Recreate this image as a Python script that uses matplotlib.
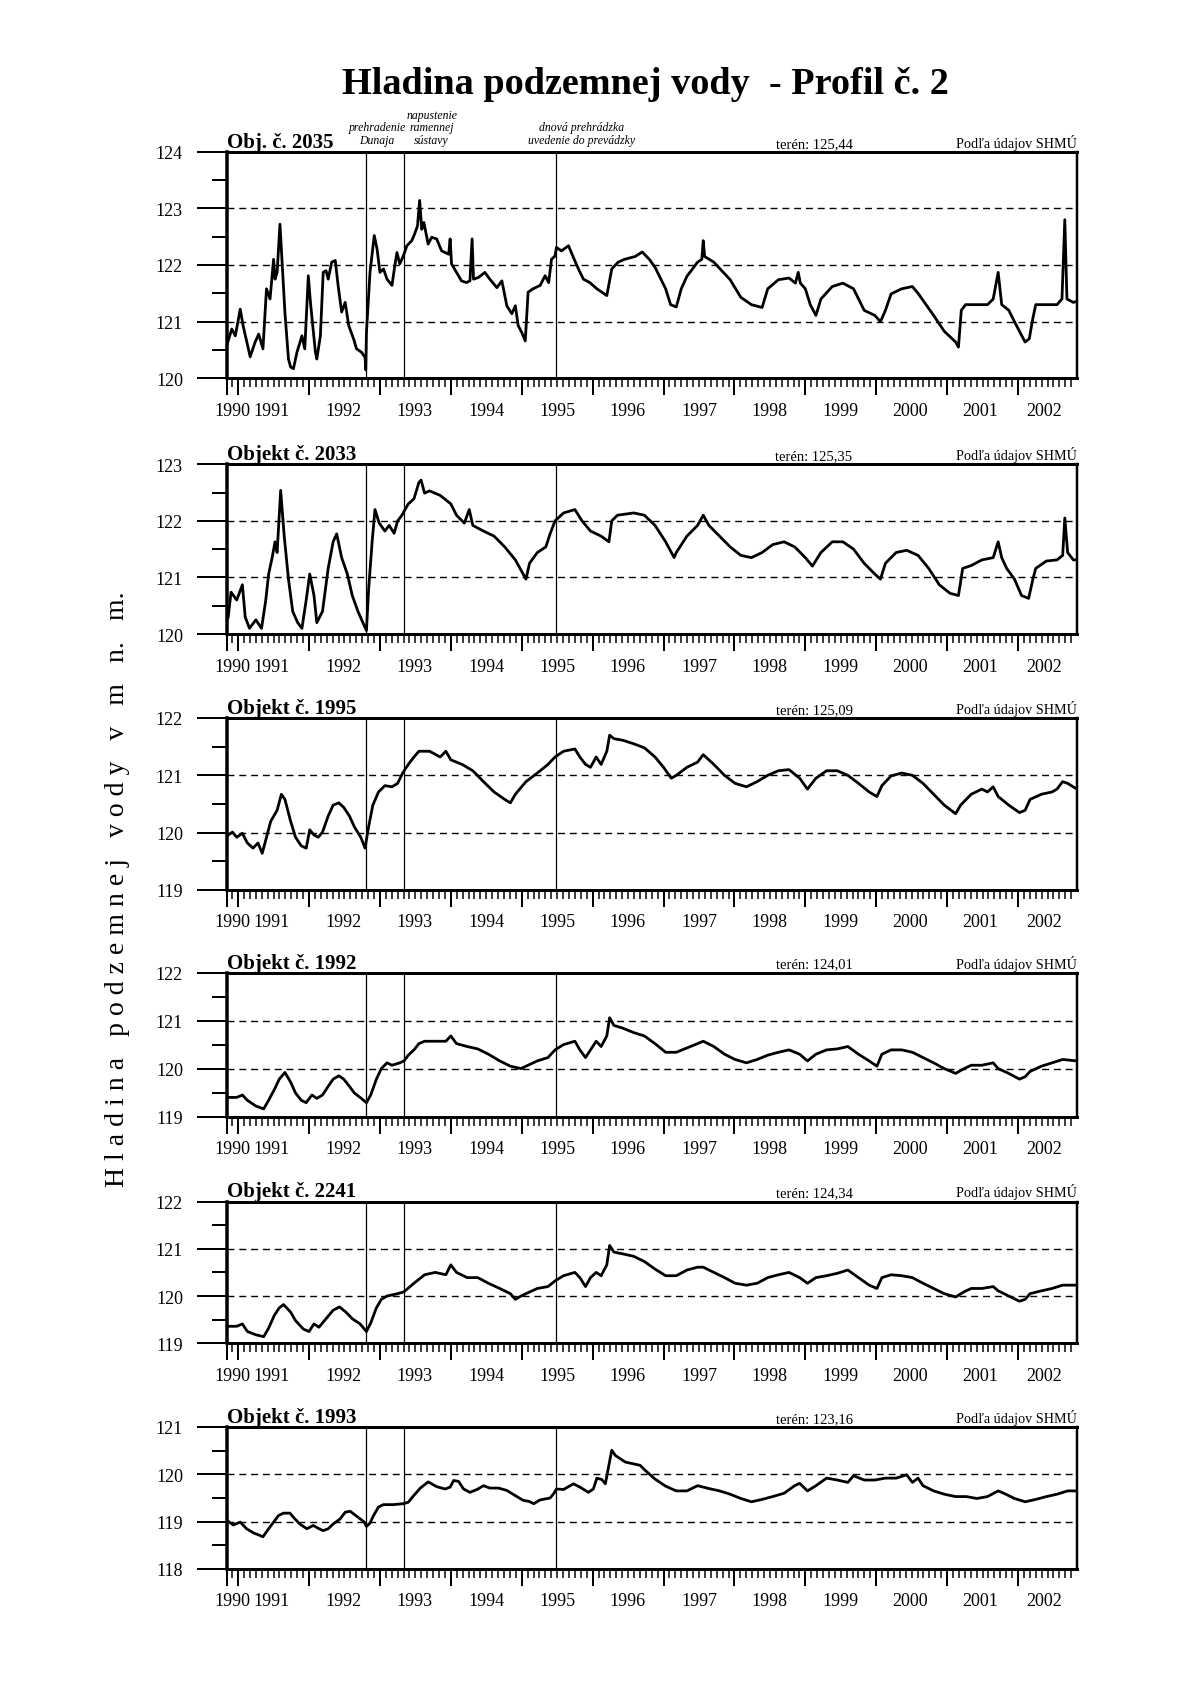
import matplotlib
matplotlib.use('Agg')
import matplotlib.pyplot as plt
from matplotlib.transforms import blended_transform_factory, offset_copy
import numpy as np

plt.rcParams['font.family'] = ['Liberation Serif', 'DejaVu Serif']

# ---------------- data ----------------
title = "Hladina podzemnej vody  - Profil č. 2"
ylabel = "H l a d i n a   p o d z e m n e j   v o d y   v   m   n.   m."
source = "Podľa údajov SHMÚ"

panel_names = ["Obj. č. 2035", "Objekt č. 2033", "Objekt č. 1995",
               "Objekt č. 1992", "Objekt č. 2241", "Objekt č. 1993"]
teren_labels = ["terén: 125,44", "terén: 125,35", "terén: 125,09",
                "terén: 124,01", "terén: 124,34", "terén: 123,16"]
y_limits = [(120, 124), (120, 123), (119, 122), (119, 122), (119, 122), (118, 121)]

event_years = [1992.81, 1993.34, 1995.48]
event_labels = ["prehradenie\nDunaja", "napustenie\nramennej\nsústavy",
                "dnová prehrádzka\nuvedenie do prevádzky"]
event_label_x = [1992.96, 1993.73, 1995.85]

year_labels = ["1990", "1991", "1992", "1993", "1994", "1995", "1996",
               "1997", "1998", "1999", "2000", "2001", "2002"]
year_label_x = [1990.92, 1991.47, 1992.49, 1993.49, 1994.50, 1995.50, 1996.49,
                1997.50, 1998.50, 1999.49, 2000.48, 2001.47, 2002.37]

obj_2035 = [(1990.84,120.58),(1990.91,120.87),(1990.96,120.75),(1991.03,121.22),(1991.07,120.93),
 (1991.17,120.38),(1991.24,120.64),(1991.29,120.78),(1991.35,120.52),(1991.38,121.16),(1991.40,121.58),
 (1991.45,121.40),(1991.50,122.10),(1991.52,121.75),(1991.55,121.87),(1991.59,122.72),(1991.62,122.05),
 (1991.66,121.16),(1991.71,120.34),(1991.74,120.20),(1991.78,120.17),(1991.83,120.46),(1991.90,120.75),
 (1991.94,120.52),(1991.99,121.81),(1992.02,121.34),(1992.09,120.46),(1992.11,120.34),(1992.16,120.75),
 (1992.20,121.87),(1992.24,121.90),(1992.27,121.75),(1992.32,122.05),(1992.37,122.08),(1992.41,121.64),
 (1992.46,121.17),(1992.51,121.34),(1992.56,120.93),(1992.63,120.69),(1992.67,120.52),(1992.74,120.46),
 (1992.79,120.37),(1992.80,120.15),(1992.81,120.81),(1992.86,121.87),(1992.92,122.52),(1992.96,122.28),
 (1993.00,121.87),(1993.05,121.93),(1993.10,121.75),(1993.17,121.64),(1993.21,121.99),(1993.24,122.22),
 (1993.28,122.02),(1993.33,122.16),(1993.38,122.34),(1993.45,122.43),(1993.49,122.55),(1993.53,122.69),
 (1993.56,123.14),(1993.59,122.63),(1993.62,122.75),(1993.68,122.37),(1993.73,122.49),(1993.80,122.46),
 (1993.87,122.25),(1993.97,122.19),(1993.99,122.46),(1994.01,122.02),(1994.08,121.87),(1994.15,121.72),
 (1994.22,121.69),(1994.27,121.72),(1994.30,122.46),(1994.32,121.75),(1994.39,121.78),(1994.48,121.87),
 (1994.55,121.75),(1994.65,121.60),(1994.72,121.72),(1994.79,121.28),(1994.86,121.14),(1994.91,121.28),
 (1994.95,120.93),(1995.00,120.81),(1995.05,120.66),(1995.09,121.52),(1995.16,121.58),(1995.26,121.64),
 (1995.33,121.81),(1995.38,121.69),(1995.42,122.10),(1995.47,122.16),(1995.49,122.31),(1995.56,122.25),
 (1995.66,122.34),(1995.73,122.13),(1995.80,121.93),(1995.87,121.75),(1995.96,121.69),(1996.06,121.58),
 (1996.20,121.46),(1996.27,121.93),(1996.36,122.05),(1996.45,122.10),(1996.60,122.15),(1996.70,122.23),
 (1996.80,122.10),(1996.88,121.96),(1997.03,121.58),(1997.10,121.30),(1997.18,121.26),(1997.25,121.58),
 (1997.33,121.80),(1997.48,122.05),(1997.54,122.10),(1997.56,122.43),(1997.58,122.15),(1997.71,122.05),
 (1997.94,121.74),(1998.09,121.43),(1998.24,121.30),(1998.39,121.25),(1998.47,121.58),(1998.62,121.74),
 (1998.77,121.77),(1998.86,121.68),(1998.90,121.87),(1998.93,121.68),(1999.00,121.58),(1999.07,121.30),
 (1999.15,121.11),(1999.22,121.40),(1999.38,121.62),(1999.53,121.68),(1999.68,121.58),(1999.83,121.20),
 (1999.98,121.11),(2000.06,121.00),(2000.13,121.20),(2000.21,121.49),(2000.36,121.58),(2000.51,121.62),
 (2000.59,121.50),(2000.81,121.11),(2000.96,120.83),(2001.12,120.64),(2001.16,120.55),(2001.20,121.20),
 (2001.26,121.30),(2001.42,121.30),(2001.57,121.30),(2001.65,121.40),(2001.72,121.87),(2001.77,121.30),
 (2001.87,121.20),(2001.95,121.00),(2002.02,120.83),(2002.10,120.64),(2002.16,120.70),(2002.20,121.00),
 (2002.25,121.30),(2002.40,121.30),(2002.55,121.30),(2002.62,121.40),(2002.66,122.80),(2002.69,121.40),
 (2002.78,121.34),(2002.83,121.36)]

obj_2033 = [(1990.86,120.30),(1990.90,120.74),(1990.98,120.60),(1991.06,120.87),(1991.10,120.30),
 (1991.16,120.10),(1991.25,120.25),(1991.33,120.10),(1991.39,120.60),(1991.43,121.06),(1991.48,121.35),
 (1991.52,121.63),(1991.55,121.44),(1991.60,122.54),(1991.65,121.73),(1991.71,120.97),(1991.77,120.40),
 (1991.84,120.20),(1991.90,120.10),(1991.96,120.60),(1992.01,121.06),(1992.07,120.68),(1992.11,120.20),
 (1992.19,120.40),(1992.27,121.16),(1992.34,121.63),(1992.39,121.77),(1992.46,121.35),(1992.54,121.06),
 (1992.61,120.68),(1992.69,120.40),(1992.76,120.20),(1992.81,120.06),(1992.84,120.78),(1992.89,121.63),
 (1992.93,122.20),(1992.99,121.96),(1993.07,121.82),(1993.13,121.92),(1993.20,121.78),(1993.25,122.00),
 (1993.31,122.10),(1993.40,122.30),(1993.48,122.39),(1993.55,122.68),(1993.58,122.72),(1993.63,122.49),
 (1993.70,122.53),(1993.85,122.45),(1994.00,122.30),(1994.08,122.10),(1994.19,121.96),(1994.26,122.20),
 (1994.31,121.92),(1994.46,121.82),(1994.61,121.73),(1994.76,121.54),(1994.91,121.31),(1995.02,121.06),
 (1995.06,120.97),(1995.11,121.25),(1995.22,121.44),(1995.34,121.54),(1995.40,121.77),(1995.47,122.00),
 (1995.59,122.14),(1995.75,122.20),(1995.85,122.00),(1995.97,121.82),(1996.12,121.73),(1996.23,121.63),
 (1996.27,122.00),(1996.35,122.10),(1996.58,122.14),(1996.73,122.10),(1996.88,121.92),(1997.03,121.63),
 (1997.15,121.35),(1997.18,121.44),(1997.33,121.73),(1997.48,121.92),(1997.56,122.10),(1997.64,121.92),
 (1997.79,121.73),(1997.94,121.54),(1998.09,121.39),(1998.24,121.35),(1998.39,121.44),(1998.54,121.58),
 (1998.70,121.63),(1998.85,121.54),(1999.00,121.35),(1999.10,121.20),(1999.22,121.44),(1999.38,121.63),
 (1999.53,121.63),(1999.68,121.50),(1999.83,121.25),(1999.98,121.06),(2000.06,120.97),(2000.13,121.25),
 (2000.28,121.44),(2000.43,121.48),(2000.59,121.39),(2000.74,121.16),(2000.89,120.87),(2001.04,120.72),
 (2001.16,120.68),(2001.22,121.16),(2001.34,121.21),(2001.49,121.31),(2001.65,121.35),(2001.72,121.63),
 (2001.77,121.35),(2001.84,121.16),(2001.95,120.97),(2002.05,120.68),(2002.15,120.63),(2002.21,120.97),
 (2002.25,121.16),(2002.40,121.29),(2002.55,121.31),(2002.63,121.39),(2002.66,122.05),(2002.70,121.44),
 (2002.78,121.31),(2002.83,121.31)]

obj_1995 = [(1990.86,119.96),(1990.92,120.01),(1990.98,119.92),(1991.06,119.99),(1991.13,119.82),
 (1991.21,119.73),(1991.28,119.82),(1991.34,119.64),(1991.40,119.92),(1991.46,120.20),(1991.55,120.39),
 (1991.61,120.67),(1991.66,120.58),(1991.74,120.20),(1991.81,119.92),(1991.89,119.77),(1991.96,119.73),
 (1992.01,120.05),(1992.07,119.96),(1992.13,119.92),(1992.19,120.01),(1992.27,120.29),(1992.34,120.48),
 (1992.42,120.52),(1992.49,120.44),(1992.57,120.29),(1992.64,120.10),(1992.73,119.92),(1992.79,119.73),
 (1992.84,120.10),(1992.90,120.48),(1992.98,120.71),(1993.07,120.82),(1993.17,120.80),(1993.25,120.86),
 (1993.32,121.04),(1993.40,121.19),(1993.48,121.32),(1993.55,121.42),(1993.70,121.42),(1993.85,121.32),
 (1993.93,121.42),(1994.00,121.27),(1994.16,121.19),(1994.31,121.08),(1994.46,120.89),(1994.61,120.71),
 (1994.76,120.58),(1994.84,120.52),(1994.91,120.67),(1995.06,120.89),(1995.22,121.04),(1995.37,121.19),
 (1995.47,121.32),(1995.59,121.42),(1995.75,121.46),(1995.82,121.32),(1995.90,121.19),(1995.97,121.14),
 (1996.05,121.32),(1996.12,121.19),(1996.20,121.42),(1996.24,121.70),(1996.30,121.64),(1996.43,121.61),
 (1996.58,121.55),(1996.73,121.48),(1996.88,121.32),(1997.00,121.14),(1997.11,120.95),(1997.18,121.00),
 (1997.33,121.14),(1997.48,121.23),(1997.56,121.36),(1997.71,121.19),(1997.86,121.00),(1998.01,120.86),
 (1998.17,120.80),(1998.32,120.89),(1998.47,121.00),(1998.62,121.08),(1998.77,121.10),(1998.92,120.95),
 (1999.03,120.76),(1999.15,120.95),(1999.30,121.08),(1999.45,121.08),(1999.60,121.00),(1999.75,120.86),
 (1999.90,120.71),(2000.01,120.63),(2000.08,120.82),(2000.21,120.99),(2000.36,121.04),(2000.51,121.00),
 (2000.66,120.86),(2000.81,120.67),(2000.96,120.48),(2001.12,120.33),(2001.19,120.48),(2001.34,120.67),
 (2001.49,120.76),(2001.57,120.71),(2001.65,120.80),(2001.72,120.63),(2001.87,120.48),(2002.02,120.35),
 (2002.10,120.39),(2002.17,120.58),(2002.33,120.67),(2002.48,120.71),(2002.55,120.76),(2002.63,120.89),
 (2002.70,120.86),(2002.83,120.76)]

obj_1992 = [(1990.86,119.40),(1990.98,119.40),(1991.06,119.45),(1991.13,119.34),(1991.25,119.22),
 (1991.36,119.16),(1991.43,119.34),(1991.51,119.56),(1991.58,119.78),(1991.66,119.92),(1991.74,119.72),
 (1991.81,119.49),(1991.89,119.34),(1991.96,119.29),(1992.04,119.45),(1992.11,119.38),(1992.19,119.45),
 (1992.27,119.63),(1992.34,119.78),(1992.42,119.85),(1992.49,119.78),(1992.57,119.63),(1992.64,119.49),
 (1992.72,119.40),(1992.81,119.29),(1992.87,119.45),(1992.95,119.78),(1993.02,120.00),(1993.10,120.12),
 (1993.17,120.07),(1993.28,120.12),(1993.34,120.16),(1993.40,120.28),(1993.48,120.39),(1993.55,120.52),
 (1993.63,120.57),(1993.78,120.57),(1993.93,120.57),(1994.00,120.68),(1994.08,120.52),(1994.23,120.46),
 (1994.38,120.41),(1994.53,120.30),(1994.69,120.16),(1994.84,120.05),(1994.99,120.00),(1995.06,120.05),
 (1995.22,120.16),(1995.37,120.23),(1995.47,120.39),(1995.59,120.50),(1995.75,120.57),(1995.82,120.39),
 (1995.90,120.23),(1995.97,120.39),(1996.05,120.57),(1996.12,120.46),(1996.20,120.68),(1996.24,121.06),
 (1996.30,120.90),(1996.43,120.84),(1996.58,120.75),(1996.73,120.68),(1996.88,120.52),(1997.03,120.34),
 (1997.18,120.34),(1997.33,120.43),(1997.48,120.52),(1997.56,120.57),(1997.71,120.46),(1997.86,120.30),
 (1998.01,120.19),(1998.17,120.12),(1998.32,120.19),(1998.47,120.28),(1998.62,120.34),(1998.77,120.39),
 (1998.92,120.30),(1999.03,120.16),(1999.15,120.30),(1999.30,120.39),(1999.45,120.41),(1999.60,120.46),
 (1999.75,120.30),(1999.90,120.16),(2000.01,120.05),(2000.08,120.30),(2000.21,120.39),(2000.36,120.39),
 (2000.51,120.34),(2000.66,120.23),(2000.81,120.12),(2000.96,120.00),(2001.12,119.90),(2001.24,120.00),
 (2001.34,120.07),(2001.49,120.07),(2001.65,120.12),(2001.72,120.00),(2001.87,119.90),(2002.02,119.78),
 (2002.10,119.83),(2002.17,119.94),(2002.33,120.05),(2002.48,120.12),(2002.63,120.19),(2002.83,120.16)]

obj_2241 = [(1990.86,119.36),(1990.98,119.36),(1991.06,119.41),(1991.13,119.25),(1991.25,119.18),
 (1991.36,119.14),(1991.43,119.32),(1991.51,119.59),(1991.58,119.75),(1991.64,119.82),(1991.74,119.66),
 (1991.81,119.48),(1991.92,119.30),(1992.00,119.25),(1992.07,119.41),(1992.14,119.34),(1992.24,119.52),
 (1992.34,119.70),(1992.43,119.77),(1992.52,119.66),(1992.61,119.52),(1992.72,119.41),(1992.81,119.25),
 (1992.87,119.43),(1992.95,119.75),(1993.02,119.93),(1993.10,120.00),(1993.25,120.05),(1993.34,120.09),
 (1993.48,120.27),(1993.63,120.45),(1993.78,120.50),(1993.93,120.45),(1994.00,120.66),(1994.08,120.50),
 (1994.23,120.39),(1994.38,120.39),(1994.53,120.27),(1994.69,120.16),(1994.84,120.05),(1994.91,119.93),
 (1994.99,120.00),(1995.06,120.05),(1995.22,120.16),(1995.37,120.20),(1995.47,120.32),(1995.59,120.43),
 (1995.75,120.50),(1995.82,120.39),(1995.90,120.20),(1995.97,120.39),(1996.05,120.50),(1996.12,120.43),
 (1996.20,120.66),(1996.24,121.07),(1996.30,120.93),(1996.43,120.89),(1996.58,120.84),(1996.73,120.73),
 (1996.88,120.57),(1997.03,120.43),(1997.18,120.43),(1997.33,120.55),(1997.48,120.61),(1997.56,120.61),
 (1997.71,120.50),(1997.86,120.39),(1998.01,120.27),(1998.17,120.23),(1998.32,120.27),(1998.47,120.39),
 (1998.62,120.45),(1998.77,120.50),(1998.92,120.39),(1999.03,120.27),(1999.15,120.39),(1999.30,120.43),
 (1999.45,120.48),(1999.60,120.55),(1999.75,120.39),(1999.90,120.23),(2000.01,120.16),(2000.08,120.39),
 (2000.21,120.45),(2000.36,120.43),(2000.51,120.39),(2000.66,120.27),(2000.81,120.16),(2000.96,120.05),
 (2001.12,119.98),(2001.24,120.09),(2001.34,120.16),(2001.49,120.16),(2001.65,120.20),(2001.72,120.11),
 (2001.87,120.00),(2002.02,119.89),(2002.10,119.93),(2002.17,120.05),(2002.33,120.11),(2002.48,120.16),
 (2002.63,120.23),(2002.83,120.23)]

obj_1993 = [(1990.85,119.02),(1990.93,118.93),(1991.03,118.99),(1991.12,118.85),(1991.22,118.76),
 (1991.29,118.72),(1991.35,118.68),(1991.43,118.85),(1991.50,118.99),(1991.57,119.13),(1991.64,119.18),
 (1991.73,119.18),(1991.80,119.06),(1991.87,118.95),(1991.97,118.85),(1992.06,118.92),(1992.13,118.86),
 (1992.20,118.81),(1992.27,118.85),(1992.34,118.95),(1992.44,119.06),(1992.51,119.20),(1992.58,119.22),
 (1992.65,119.14),(1992.72,119.06),(1992.78,118.99),(1992.81,118.90),(1992.86,118.97),(1992.91,119.13),
 (1992.98,119.31),(1993.05,119.36),(1993.19,119.36),(1993.33,119.38),(1993.40,119.41),(1993.47,119.54),
 (1993.57,119.71),(1993.68,119.84),(1993.80,119.74),(1993.92,119.69),(1993.99,119.73),(1994.04,119.87),
 (1994.11,119.85),(1994.18,119.69),(1994.27,119.62),(1994.37,119.68),(1994.46,119.76),(1994.55,119.71),
 (1994.67,119.71),(1994.79,119.66),(1994.91,119.55),(1995.02,119.45),(1995.10,119.43),(1995.17,119.38),
 (1995.26,119.46),(1995.40,119.50),(1995.45,119.59),(1995.49,119.69),(1995.59,119.68),(1995.73,119.80),
 (1995.82,119.73),(1995.94,119.62),(1996.01,119.69),(1996.06,119.92),(1996.13,119.89),(1996.18,119.80),
 (1996.22,120.12),(1996.27,120.51),(1996.32,120.40),(1996.39,120.33),(1996.46,120.26),(1996.58,120.22),
 (1996.67,120.19),(1996.73,120.10),(1996.88,119.90),(1997.03,119.75),(1997.18,119.65),(1997.33,119.65),
 (1997.48,119.76),(1997.64,119.70),(1997.79,119.65),(1997.94,119.58),(1998.09,119.49),(1998.24,119.42),
 (1998.39,119.47),(1998.54,119.53),(1998.70,119.60),(1998.85,119.76),(1998.92,119.81),(1999.03,119.65),
 (1999.15,119.76),(1999.30,119.92),(1999.45,119.88),(1999.60,119.83),(1999.68,119.97),(1999.83,119.88),
 (1999.98,119.88),(2000.13,119.92),(2000.28,119.92),(2000.43,119.99),(2000.51,119.83),(2000.59,119.92),
 (2000.66,119.76),(2000.81,119.65),(2000.96,119.58),(2001.12,119.53),(2001.27,119.53),(2001.42,119.49),
 (2001.57,119.53),(2001.72,119.65),(2001.80,119.60),(2001.95,119.49),(2002.10,119.42),(2002.25,119.47),
 (2002.40,119.53),(2002.55,119.58),(2002.70,119.65),(2002.83,119.65)]

series_list = [obj_2035, obj_2033, obj_1995, obj_1992, obj_2241, obj_1993]

# ---------------- layout ----------------
W, H = 1190, 1683
X_MIN, X_MAX = 1990.843, 2002.832
AX_LEFT, AX_RIGHT = 227, 1077
panel_boxes = [(152.7, 379.3), (465.3, 635.0), (719.0, 891.0),
               (973.6, 1117.6), (1202.5, 1344.3), (1428.0, 1570.0)]
PX = 72.0 / 100.0  # points per pixel

fig = plt.figure(figsize=(W / 100, H / 100), dpi=100)
fig.patch.set_facecolor('white')

fig.text(645 / W, 1 - 84 / H, title, ha='center', va='center',
         fontsize=27.5, fontweight='bold')
fig.text(118 / W, 1 - 889 / H, ylabel, rotation=90, ha='center', va='center',
         fontsize=20)

major_x = [X_MIN] + list(range(1991, 2003))
minor_x = np.arange(1990 + 11 / 12, X_MAX, 1 / 12)

for i, (series, (y0, y1)) in enumerate(zip(series_list, y_limits)):
    top, bot = panel_boxes[i]
    ax = fig.add_axes([AX_LEFT / W, 1 - bot / H, (AX_RIGHT - AX_LEFT) / W, (bot - top) / H])
    t = [p[0] for p in series]
    h = [p[1] for p in series]
    ax.set_xlim(X_MIN, X_MAX)
    ax.set_ylim(y0, y1)
    for v in range(y0 + 1, y1):
        ax.axhline(v, color='black', lw=1.0, ls=(0, (5, 3.5)), zorder=1)
    for e in event_years:
        ax.axvline(e, color='black', lw=0.9, zorder=1)
    ax.plot(t, h, color='black', lw=2.0, zorder=3, solid_joinstyle='round')

    ax.set_yticks(range(y0, y1 + 1))
    ax.set_yticks(np.arange(y0 + 0.5, y1, 1.0), minor=True)
    ax.set_xticks(major_x)
    ax.set_xticks(minor_x, minor=True)
    ax.set_xticklabels([])
    ax.tick_params(axis='y', which='major', direction='out', length=30 * PX,
                   width=2 * PX, pad=14 * PX, labelsize=13)
    ax.tick_params(axis='y', which='minor', direction='out', length=15 * PX, width=2 * PX)
    ax.tick_params(axis='x', which='major', direction='out', length=17 * PX, width=2 * PX)
    ax.tick_params(axis='x', which='minor', direction='out', length=9 * PX, width=1.5 * PX)
    ax.spines['left'].set_linewidth(3.5 * PX)
    ax.spines['bottom'].set_linewidth(3 * PX)
    ax.spines['top'].set_linewidth(3 * PX)
    ax.spines['right'].set_linewidth(2.5 * PX)

    btr = blended_transform_factory(ax.transData, ax.transAxes)
    lab_tr = offset_copy(btr, fig=fig, x=0, y=-32, units='dots')
    for lx, lt in zip(year_label_x, year_labels):
        ax.text(lx, 0, lt, transform=lab_tr, ha='center', va='center', fontsize=13)

    top_tr = offset_copy(ax.transAxes, fig=fig, x=0, y=5, units='dots')
    ax.text(0, 1, panel_names[i], transform=top_tr, ha='left', va='baseline',
            fontsize=15, fontweight='bold')
    ax.text((814 - AX_LEFT) / (AX_RIGHT - AX_LEFT), 1, teren_labels[i], transform=top_tr,
            ha='center', va='baseline', fontsize=10.5)
    ax.text(1, 1, source, transform=top_tr, ha='right', va='baseline', fontsize=10.2)

    if i == 0:
        ev_tr = offset_copy(btr, fig=fig, x=0, y=6, units='dots')
        for ex, el in zip(event_label_x, event_labels):
            ax.text(ex, 1, el, transform=ev_tr, ha='center', va='bottom',
                    fontsize=8.5, style='italic', linespacing=1.05, multialignment='center')

fig.savefig('out.png', dpi=100, facecolor='white')
